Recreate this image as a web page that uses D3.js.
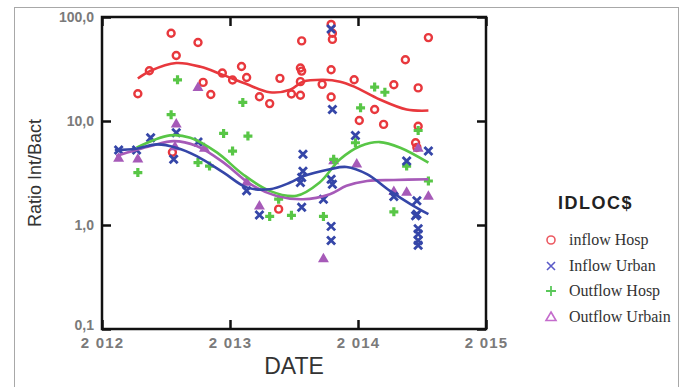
<!DOCTYPE html>
<html>
<head>
<meta charset="utf-8">
<script src="https://cdn.jsdelivr.net/npm/d3@7"></script>
<style>
  body { margin: 0; background: #fff; }
  svg { display: block; }
</style>
</head>
<body>
<svg id="chart"></svg>
<script>
// scatter values: [date, ratio]
const inflowHosp = [
  [2012.54, 69.8], [2012.75, 56.8], [2012.58, 42.6], [2012.37, 30.4], [2012.28, 18.3],
  [2012.79, 23.5], [2012.85, 18.0], [2012.94, 28.9], [2013.02, 24.8], [2013.09, 33.4],
  [2013.13, 26.2], [2013.23, 17.1], [2013.31, 14.7], [2013.39, 25.7], [2013.48, 18.2],
  [2013.55, 32.3], [2013.56, 30.2], [2013.55, 23.9], [2013.55, 17.7], [2013.56, 58.9],
  [2013.72, 22.5], [2013.79, 84.8], [2013.80, 69.8], [2013.80, 60.9], [2013.79, 31.1],
  [2013.79, 17.0], [2013.97, 24.9], [2014.13, 12.9], [2014.01, 10.1], [2014.20, 9.27],
  [2014.28, 22.3], [2014.37, 38.8], [2014.47, 20.8], [2014.55, 63.4], [2014.47, 8.9],
  [2014.45, 6.18], [2014.46, 5.57], [2013.38, 1.42], [2012.55, 5.0]
]
const inflowUrban = [
  [2012.13, 5.26], [2012.27, 5.26], [2012.38, 6.9], [2012.58, 7.7], [2012.56, 4.28],
  [2012.75, 6.27], [2013.13, 2.13], [2013.23, 1.25], [2013.56, 2.86], [2013.55, 2.56],
  [2013.57, 3.29], [2013.57, 4.78], [2013.56, 1.48], [2013.73, 1.77], [2013.79, 0.97],
  [2013.79, 0.71], [2013.79, 2.75], [2013.80, 2.47], [2013.79, 76.8], [2013.80, 12.9],
  [2013.98, 7.27], [2014.28, 1.88], [2014.38, 4.12], [2014.46, 1.71], [2014.46, 1.27],
  [2014.45, 1.23], [2014.47, 0.92], [2014.47, 0.82], [2014.47, 0.71], [2014.47, 0.64],
  [2014.55, 5.14]
]
const outflowHosp = [
  [2012.59, 24.9], [2012.54, 11.5], [2013.10, 15.1], [2012.95, 7.59], [2013.14, 7.16],
  [2013.02, 5.14], [2014.13, 21.2], [2014.21, 18.9], [2014.02, 13.4], [2014.47, 8.1],
  [2013.98, 6.18], [2012.28, 3.19], [2012.75, 3.98], [2012.84, 3.69], [2013.31, 1.21],
  [2013.48, 1.24], [2013.73, 1.21], [2013.38, 1.77], [2013.81, 4.28], [2014.38, 3.69],
  [2014.28, 1.34], [2014.55, 2.65]
]
const outflowUrbain = [
  [2012.75, 20.8], [2012.58, 9.27], [2012.13, 4.35], [2012.28, 4.28], [2012.80, 5.42],
  [2013.13, 2.56], [2013.23, 1.51], [2013.73, 0.47], [2013.81, 4.12], [2013.99, 3.84],
  [2014.28, 2.08], [2014.38, 2.05], [2014.55, 1.88], [2014.47, 5.42], [2012.57, 5.6]
]

// smoothed curves
const smoothInflowHosp = [
  [2012.28, 25.6], [2012.38, 30.4], [2012.58, 36.1], [2012.77, 33.2], [2012.94, 27.9],
  [2013.12, 22.9], [2013.31, 18.9], [2013.47, 20.0], [2013.57, 23.9], [2013.73, 24.9],
  [2013.86, 23.9], [2013.97, 21.4], [2014.17, 16.1], [2014.38, 12.9], [2014.55, 12.6]
]
const smoothInflowUrban = [
  [2012.10, 5.26], [2012.27, 5.42], [2012.43, 5.96], [2012.58, 5.54], [2012.74, 4.60],
  [2012.95, 3.19], [2013.13, 2.30], [2013.31, 2.21], [2013.47, 2.56], [2013.57, 2.94],
  [2013.78, 3.44], [2013.91, 3.61], [2014.07, 3.08], [2014.25, 2.13], [2014.41, 1.59],
  [2014.55, 1.27]
]
const smoothOutflowHosp = [
  [2012.27, 5.54], [2012.53, 7.27], [2012.69, 6.9], [2012.90, 4.96], [2013.10, 3.08],
  [2013.31, 2.13], [2013.52, 1.91], [2013.70, 2.56], [2013.86, 4.28], [2014.02, 5.74],
  [2014.17, 6.27], [2014.33, 5.54], [2014.55, 3.98]
]
const smoothOutflowUrbain = [
  [2012.11, 4.60], [2012.38, 5.74], [2012.56, 6.41], [2012.74, 5.74], [2012.95, 3.98],
  [2013.16, 2.47], [2013.36, 1.91], [2013.57, 1.77], [2013.78, 1.98], [2013.91, 2.38],
  [2014.07, 2.65], [2014.28, 2.71], [2014.55, 2.75]
]

const xTicks = [2012, 2013, 2014, 2015]
const yTicks = [0.1, 1, 10, 100]
const legendLabels = ["inflow Hosp", "Inflow Urban", "Outflow Hosp", "Outflow Urbain"]

window.onload = function(){

    let width = 684
    let height = 387
    const svg = d3.select("#chart")
        .attr("width", width)
        .attr("height", height)

    // outer frame of the figure
    svg.append("rect")
        .attr("x", 14.5).attr("y", 7.5)
        .attr("width", 664).attr("height", 400)
        .attr("fill", "none")
        .attr("stroke", "#a8a8a8")
        .attr("stroke-width", 1)

    const left = 102, right = 486, top = 17, bottom = 329

    const x = d3.scaleLinear().domain([2012, 2015]).range([left, right])
    const y = d3.scaleLog().domain([0.1, 100]).range([bottom, top])

    const colors = {
        ih: "#e8383d",
        iu: "#3546a8",
        oh: "#58c646",
        ou: "#a65ab8"
    }

    const yFmt = d => d3.format(".1f")(d).replace(".", ",")
    const xFmt = d => String(d).replace(/^2/, "2 ")

    // axes, ticks pointing in
    const gx = svg.append("g")
        .attr("transform", `translate(0,${bottom})`)
        .call(d3.axisBottom(x).tickValues(xTicks).tickSize(-9).tickPadding(8).tickFormat(xFmt))
    const gxTop = svg.append("g")
        .attr("transform", `translate(0,${top})`)
        .call(d3.axisTop(x).tickValues(xTicks).tickSize(-9).tickFormat(""))
    const gy = svg.append("g")
        .attr("transform", `translate(${left},0)`)
        .call(d3.axisLeft(y).tickValues(yTicks).tickSize(-9).tickPadding(8).tickFormat(yFmt))
    const gyRight = svg.append("g")
        .attr("transform", `translate(${right},0)`)
        .call(d3.axisRight(y).tickValues(yTicks).tickSize(-9).tickFormat(""))

    for (const g of [gx, gxTop, gy, gyRight]){
        g.select(".domain").remove()
        g.selectAll(".tick line").attr("stroke", "#111").attr("stroke-width", 2.5)
        g.selectAll("text")
            .attr("fill", "#7a7a7a")
            .style("font-family", "'Liberation Sans', Arial, sans-serif")
            .style("font-weight", "bold")
            .style("font-size", "14px")
    }
    gx.selectAll("text").style("font-size", "15px").style("letter-spacing", "1.2px")
    gy.selectAll(".tick").filter(d => d === 0.1).select("text").attr("dy", "0.05em")

    svg.append("rect")
        .attr("x", left).attr("y", top)
        .attr("width", right - left).attr("height", bottom - top)
        .attr("fill", "none")
        .attr("stroke", "#111")
        .attr("stroke-width", 2.5)

    // axis titles
    svg.append("text")
        .attr("x", (left + right) / 2).attr("y", 374)
        .attr("text-anchor", "middle")
        .attr("fill", "#333")
        .style("font-family", "'Liberation Sans', Arial, sans-serif")
        .style("font-size", "23px")
        .text("DATE")

    svg.append("text")
        .attr("transform", `translate(41,${(top + bottom) / 2}) rotate(-90)`)
        .attr("text-anchor", "middle")
        .attr("fill", "#333")
        .style("font-family", "'Liberation Sans', Arial, sans-serif")
        .style("font-size", "18px")
        .text("Ratio Int/Bact")

    // smoothers
    const line = d3.line()
        .x(d => x(d[0]))
        .y(d => y(d[1]))
        .curve(d3.curveCatmullRom.alpha(0.5))

    const curves = [
        [smoothOutflowUrbain, colors.ou],
        [smoothOutflowHosp, colors.oh],
        [smoothInflowUrban, colors.iu],
        [smoothInflowHosp, colors.ih]
    ]

    // markers
    const pts = svg.append("g")

    pts.selectAll("circle")
        .data(inflowHosp)
        .enter()
        .append("circle")
        .attr("cx", d => x(d[0]))
        .attr("cy", d => y(d[1]))
        .attr("r", 3.5)
        .attr("fill", "none")
        .attr("stroke", colors.ih)
        .attr("stroke-width", 2.4)

    pts.selectAll("path.tri")
        .data(outflowUrbain)
        .enter()
        .append("path")
        .attr("class", "tri")
        .attr("d", d3.symbol(d3.symbolTriangle, 52))
        .attr("transform", d => `translate(${x(d[0])},${y(d[1])})`)
        .attr("fill", colors.ou)

    pts.selectAll("path.plus")
        .data(outflowHosp)
        .enter()
        .append("path")
        .attr("class", "plus")
        .attr("d", "M-4.5,0H4.5M0,-4.5V4.5")
        .attr("transform", d => `translate(${x(d[0])},${y(d[1])})`)
        .attr("stroke", colors.oh)
        .attr("stroke-width", 3.2)

    pts.selectAll("path.cross")
        .data(inflowUrban)
        .enter()
        .append("path")
        .attr("class", "cross")
        .attr("d", "M-4,-4L4,4M-4,4L4,-4")
        .attr("transform", d => `translate(${x(d[0])},${y(d[1])})`)
        .attr("stroke", colors.iu)
        .attr("stroke-width", 2.8)

    for (const [data, col] of curves){
        svg.append("path")
            .datum(data)
            .attr("d", line)
            .attr("fill", "none")
            .attr("stroke", col)
            .attr("stroke-width", 2.6)
    }

    // legend
    const leg = svg.append("g")
    leg.append("text")
        .attr("x", 558).attr("y", 209)
        .attr("fill", "#222")
        .style("font-family", "'Liberation Sans', Arial, sans-serif")
        .style("font-weight", "bold")
        .style("font-size", "18px")
        .style("letter-spacing", "1.5px")
        .text("IDLOC$")

    const legY = [240, 266, 291, 317]
    const legCol = ["#ec5a62", "#5a5ac8", "#5ac85a", "#c46ccc"]
    legendLabels.forEach((lab, i) => {
        const g = leg.append("g").attr("transform", `translate(551,${legY[i]})`)
        if (i === 0) g.append("circle").attr("r", 4).attr("fill", "none").attr("stroke", legCol[i]).attr("stroke-width", 1.6)
        if (i === 1) g.append("path").attr("d", "M-4,-4L4,4M-4,4L4,-4").attr("stroke", legCol[i]).attr("stroke-width", 1.6)
        if (i === 2) g.append("path").attr("d", "M-5,0H5M0,-5V5").attr("stroke", legCol[i]).attr("stroke-width", 1.8)
        if (i === 3) g.append("path").attr("d", "M0,-5L5,3.5L-5,3.5Z").attr("fill", "none").attr("stroke", legCol[i]).attr("stroke-width", 1.6)
        g.append("text")
            .attr("x", 18).attr("y", 5)
            .attr("fill", "#333")
            .style("font-family", "'Liberation Serif', 'Times New Roman', serif")
            .style("font-size", "16px")
            .text(lab)
    })
}
</script>
</body>
</html>
